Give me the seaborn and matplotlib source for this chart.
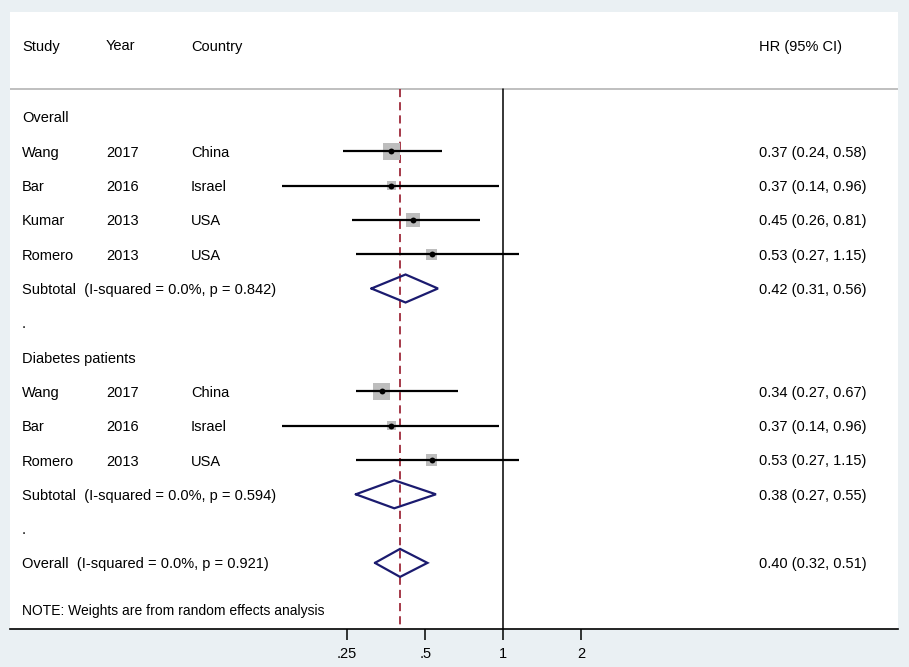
import matplotlib

matplotlib.use("Agg")
import matplotlib.pyplot as plt
import matplotlib.transforms as mtransforms
import numpy as np
import pandas as pd
import seaborn as sns

# ---- data ----
overall_study = ["Wang", "Bar", "Kumar", "Romero"]
overall_year = ["2017", "2016", "2013", "2013"]
overall_country = ["China", "Israel", "USA", "USA"]
overall_hr = [0.37, 0.37, 0.45, 0.53]
overall_lo = [0.24, 0.14, 0.26, 0.27]
overall_hi = [0.58, 0.96, 0.81, 1.15]
overall_weight = [41.8, 12.5, 27.2, 18.5]

diabetes_study = ["Wang", "Bar", "Romero"]
diabetes_year = ["2017", "2016", "2013"]
diabetes_country = ["China", "Israel", "USA"]
diabetes_hr = [0.34, 0.37, 0.53]
diabetes_lo = [0.27, 0.14, 0.27]
diabetes_hi = [0.67, 0.96, 1.15]
diabetes_weight = [43.3, 12.5, 17.5]

subtotal_labels = ["Subtotal  (I-squared = 0.0%, p = 0.842)",
                   "Subtotal  (I-squared = 0.0%, p = 0.594)"]
subtotal_hr = [0.42, 0.38]
subtotal_lo = [0.31, 0.27]
subtotal_hi = [0.56, 0.55]

pooled_label = "Overall  (I-squared = 0.0%, p = 0.921)"
pooled_hr = 0.40
pooled_lo = 0.32
pooled_hi = 0.51

group_labels = ["Overall", "Diabetes patients"]
header = ["Study", "Year", "Country", "HR (95% CI)"]
note = "NOTE: Weights are from random effects analysis"
tick_values = [0.25, 0.5, 1, 2]
tick_labels = [".25", ".5", "1", "2"]


def main():
    sns.set_theme(style="white")
    plt.rcParams["font.family"] = ["Liberation Sans", "DejaVu Sans"]

    # study rows, in display order
    studies = pd.DataFrame({
        "study": overall_study + diabetes_study,
        "year": overall_year + diabetes_year,
        "country": overall_country + diabetes_country,
        "hr": overall_hr + diabetes_hr,
        "lo": overall_lo + diabetes_lo,
        "hi": overall_hi + diabetes_hi,
        "weight": overall_weight + diabetes_weight,
        "row": [1, 2, 3, 4, 8, 9, 10],
    })
    pooled = pd.DataFrame({
        "label": subtotal_labels + [pooled_label],
        "hr": subtotal_hr + [pooled_hr],
        "lo": subtotal_lo + [pooled_lo],
        "hi": subtotal_hi + [pooled_hi],
        "row": [5, 11, 13],
    })

    fig = plt.figure(figsize=(9.09, 6.67), dpi=100, facecolor="#EAF0F3")
    W, H = 909, 667
    left, right, top, bottom = 10, 898, 12, 629
    ax = fig.add_axes([left / W, (H - bottom) / H, (right - left) / W, (bottom - top) / H])
    ax.set_facecolor("white")

    # pixel-calibrated log2 scale: x = 503.3 + 78.1*log2(v)
    ax.set_xscale("log", base=2)
    ax.set_xlim(2 ** ((left - 503.3) / 78.1), 2 ** ((right - 503.3) / 78.1))
    row_px = 34.3
    y0 = 117
    ax.set_ylim((bottom - y0) / row_px, (top - y0) / row_px)

    line_top = (89 - y0) / row_px
    ax.axhline(line_top, color="#B4B4B4", lw=1.2, zorder=1)
    ax.plot([1, 1], [line_top, ax.get_ylim()[0]], color="black", lw=1.1, zorder=2)
    ax.plot([pooled_hr, pooled_hr], [line_top, ax.get_ylim()[0]], color="#9E2A3A",
            lw=1.3, dashes=(4.5, 2.8), zorder=3)

    # CI whiskers
    ax.hlines(studies["row"], studies["lo"], studies["hi"], color="black", lw=1.6, zorder=4)
    # weight boxes (side ~ sqrt(weight))
    side_pt = 2.63 * np.sqrt(studies["weight"]) * 0.72
    ax.scatter(studies["hr"], studies["row"], s=side_pt ** 2, marker="s",
               color="#BDBDBD", linewidths=0, zorder=3)
    sns.scatterplot(data=studies, x="hr", y="row", marker="o", s=18, color="black",
                    linewidth=0, ax=ax, zorder=5, legend=False)

    # pooled diamonds
    half = 14 / row_px
    for _, r in pooled.iterrows():
        xs = [r["lo"], r["hr"], r["hi"], r["hr"], r["lo"]]
        ys = [r["row"], r["row"] - half, r["row"], r["row"] + half, r["row"]]
        ax.plot(xs, ys, color="#1B1B6F", lw=1.6, zorder=6, solid_joinstyle="miter")

    # text columns
    fx = lambda px: (px - left) / (right - left)
    trans = mtransforms.blended_transform_factory(ax.transAxes, ax.transData)
    fs = 10.5
    kw = dict(transform=trans, fontsize=fs, va="center_baseline", color="black")
    header_row = (45 - y0) / row_px
    for lbl, px in zip(header, [22, 106, 191, 759]):
        ax.text(fx(px), header_row, lbl, **kw)

    ax.text(fx(22), 0, group_labels[0], **kw)
    ax.text(fx(22), 7, group_labels[1], **kw)
    for _, r in studies.iterrows():
        ax.text(fx(22), r["row"], r["study"], **kw)
        ax.text(fx(106), r["row"], r["year"], **kw)
        ax.text(fx(191), r["row"], r["country"], **kw)
        ax.text(fx(759), r["row"], f"{r['hr']:.2f} ({r['lo']:.2f}, {r['hi']:.2f})", **kw)
    for _, r in pooled.iterrows():
        ax.text(fx(22), r["row"], r["label"], **kw)
        ax.text(fx(759), r["row"], f"{r['hr']:.2f} ({r['lo']:.2f}, {r['hi']:.2f})", **kw)
    for rr in [6, 12]:
        ax.text(fx(22), rr, ".", **kw)
    ax.text(fx(22), (609 - y0) / row_px, note, transform=trans, fontsize=10,
            va="center_baseline", color="black")

    # axes styling
    for side in ["top", "left", "right"]:
        ax.spines[side].set_visible(False)
    ax.spines["bottom"].set_color("black")
    ax.spines["bottom"].set_linewidth(1.2)
    ax.set_xticks(tick_values)
    ax.set_xticklabels(tick_labels)
    ax.xaxis.set_minor_locator(matplotlib.ticker.NullLocator())
    ax.tick_params(axis="x", bottom=True, length=8, width=1.1, color="black",
                   labelsize=fs, pad=5, labelcolor="black")
    ax.set_yticks([])
    ax.set_xlabel("")
    ax.set_ylabel("")

    fig.savefig("out.png", dpi=100, facecolor=fig.get_facecolor())
    plt.close(fig)


if __name__ == "__main__":
    main()
